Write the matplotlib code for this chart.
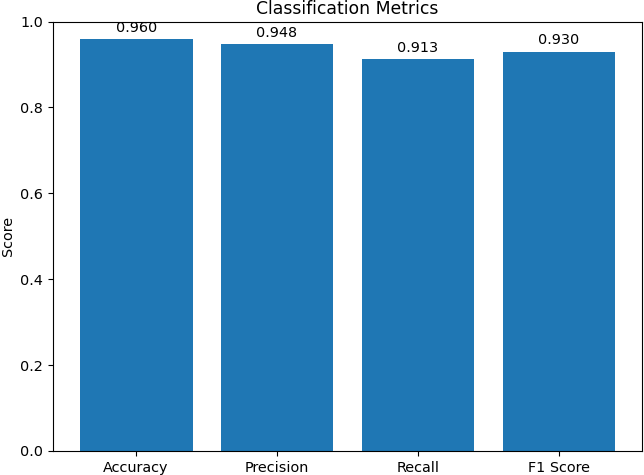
import matplotlib
matplotlib.use("Agg")
import matplotlib.pyplot as plt

metrics = ["Accuracy", "Precision", "Recall", "F1 Score"]
scores = [0.960, 0.948, 0.913, 0.930]


def main():
    plt.rcParams["font.size"] = 10.4
    fig, ax = plt.subplots(figsize=(6.44, 4.75), dpi=100)
    bars = ax.bar(metrics, scores, color="#1f77b4")
    ax.bar_label(bars, fmt="{:.3f}", padding=3)
    ax.set_ylim(0, 1)
    ax.set_ylabel("Score")
    ax.set_title("Classification Metrics", fontsize=12.4, pad=5.5)
    fig.subplots_adjust(left=53 / 644, right=642 / 644,
                        top=1 - 21.5 / 475, bottom=1 - 451 / 475)
    fig.savefig("out.png")


if __name__ == "__main__":
    main()
